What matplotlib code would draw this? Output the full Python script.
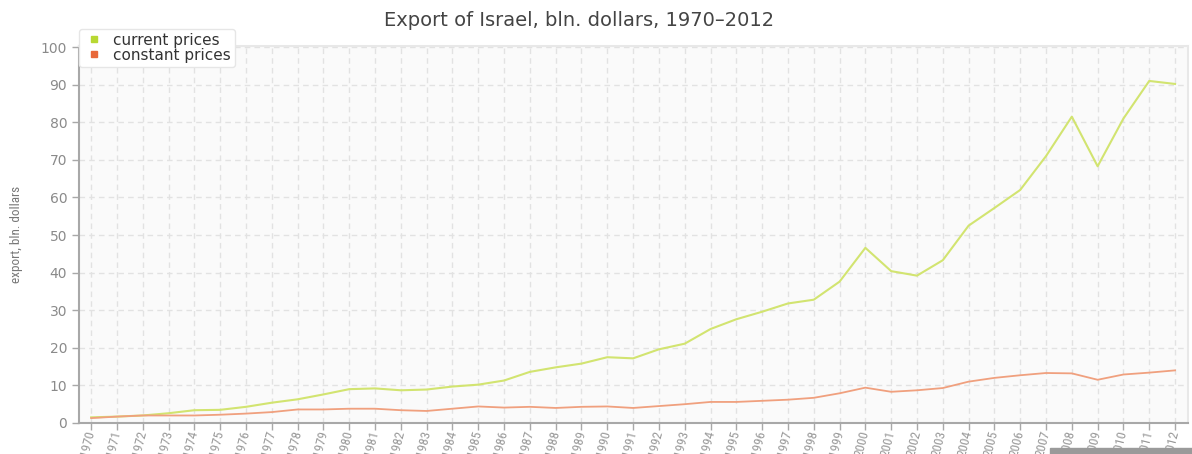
import matplotlib
matplotlib.use("Agg")
import matplotlib.pyplot as plt
from matplotlib.lines import Line2D
from matplotlib.patches import Rectangle
from matplotlib import font_manager

# Export of Israel, bln. dollars
years = list(range(1970, 2013))
current_prices = [1.5, 1.7, 2.0, 2.6, 3.4, 3.5, 4.3, 5.4, 6.3, 7.6,
                  9.0, 9.2, 8.7, 8.9, 9.7, 10.2, 11.3, 13.6, 14.8, 15.8,
                  17.5, 17.2, 19.6, 21.1, 25.0, 27.6, 29.6, 31.8, 32.8, 37.6,
                  46.6, 40.4, 39.2, 43.3, 52.5, 57.2, 62.0, 71.0, 81.5, 68.3,
                  81.0, 91.0, 90.2]
constant_prices = [1.3, 1.7, 2.0, 2.0, 2.0, 2.2, 2.5, 2.9, 3.6, 3.6,
                   3.8, 3.8, 3.4, 3.2, 3.8, 4.4, 4.1, 4.3, 4.0, 4.3,
                   4.4, 4.0, 4.5, 5.0, 5.6, 5.6, 5.9, 6.2, 6.7, 7.9,
                   9.4, 8.3, 8.7, 9.3, 11.0, 12.0, 12.7, 13.3, 13.2, 11.5,
                   12.9, 13.4, 14.0]
y_ticks = list(range(0, 101, 10))

# narrow font for the axis labels, if there is one
names = {f.name for f in font_manager.fontManager.ttflist}
narrow = "Liberation Sans"
for cand in ("Liberation Sans Narrow", "DejaVu Sans Condensed", "Roboto Condensed"):
    if cand in names:
        narrow = cand
        break

fig = plt.figure(figsize=(11.92, 4.54), dpi=100)
ax = fig.add_axes([0.0663, 0.0683, 0.9303, 0.8304])
ax.set_facecolor("#fafafa")

ax.plot(years, current_prices, color="#d2e470", lw=1.5)
ax.plot(years, constant_prices, color="#f0a07e", lw=1.3)

ax.set_xlim(1969.53, 2012.5)
ax.set_ylim(0, 100.3)
ax.set_xticks(years)
ax.set_xticklabels([str(y) for y in years], rotation=76, ha="right",
                   va="center", rotation_mode="anchor",
                   family=narrow, fontsize=9.5, color="#999999")
ax.set_yticks(y_ticks)
ax.set_yticklabels([str(v) for v in y_ticks], fontsize=10, color="#8a8a8a")

ax.grid(True, color="#e2e2e2", ls=(0, (4, 3)), lw=1)
ax.set_axisbelow(True)
for side in ("top", "right"):
    ax.spines[side].set_color("#e8e8e8")
    ax.spines[side].set_linewidth(1.5)
for side in ("left", "bottom"):
    ax.spines[side].set_color("#a8a8a8")
    ax.spines[side].set_linewidth(1.5)
ax.tick_params(axis="both", colors="#a8a8a8", length=5, width=1)
ax.tick_params(axis="x", labelcolor="#999999", pad=0.5)
ax.tick_params(axis="y", labelcolor="#8a8a8a")

ax.set_ylabel("export, bln. dollars", fontsize=9.5, color="#777777",
              family=narrow, labelpad=13)

fig.text(0.486, 0.955, "Export of Israel, bln. dollars, 1970\u20132012",
         ha="center", va="center", fontsize=14, color="#444444")

handles = [Line2D([], [], ls="none", marker="s", ms=5, color="#b8d832"),
           Line2D([], [], ls="none", marker="s", ms=5, color="#e8683a")]
leg = ax.legend(handles, ["current prices", "constant prices"],
                loc="upper left", bbox_to_anchor=(0.0, 1.045),
                fontsize=11, frameon=True, fancybox=True,
                handlelength=1.4, handletextpad=0.6, labelspacing=0.0,
                borderpad=0.25, borderaxespad=0.0)
leg.get_frame().set_edgecolor("#e6e6e6")
leg.get_frame().set_facecolor("white")
leg.get_frame().set_alpha(1)
for t in leg.get_texts():
    t.set_color("#333333")

# scrollbar remnant at the bottom right
fig.patches.append(Rectangle((1050 / 1192, 0), 142 / 1192, 6 / 454,
                             transform=fig.transFigure, color="#9a9a9a"))

fig.savefig("out.png", dpi=100)
